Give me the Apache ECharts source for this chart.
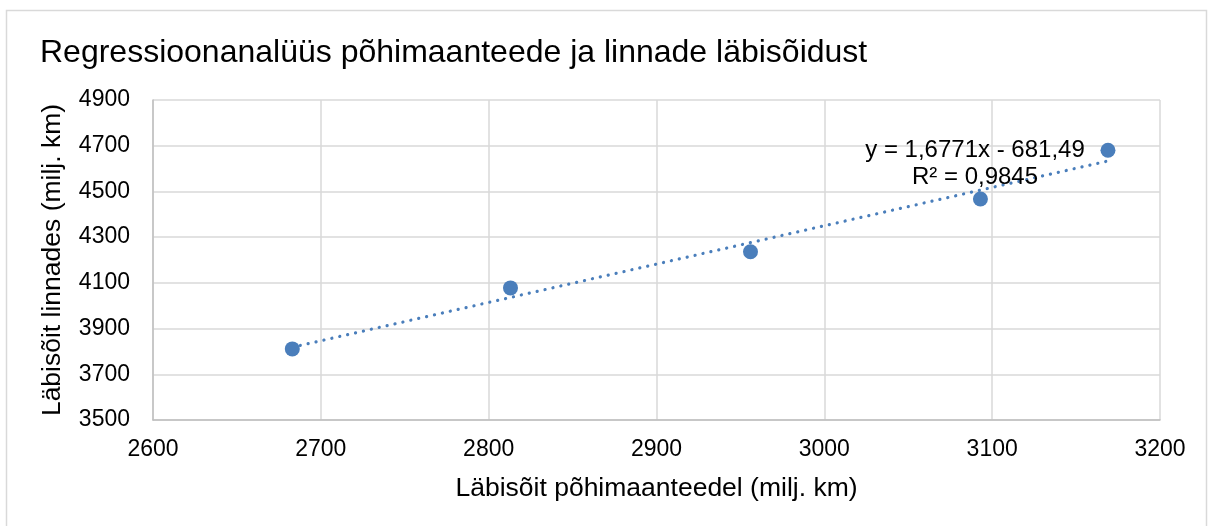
<!DOCTYPE html>
<html>
<head>
<meta charset="utf-8">
<script src="https://cdn.jsdelivr.net/npm/echarts@6/dist/echarts.min.js"></script>
<style>html,body{margin:0;padding:0;background:#fff}#c{width:1213px;height:526px}</style>
</head>
<body>
<div id="c"></div>
<script>
const xValues = [2683, 2813, 2956, 3093, 3169];
const yValues = [3811, 4078, 4236, 4467, 4680];
const slope = 1.6771;
const intercept = -681.49;
const eqText = 'y = 1,6771x - 681,49';
const r2Text = 'R² = 0,9845';
const xTicks = [2600, 2700, 2800, 2900, 3000, 3100, 3200];
const yTicks = [3500, 3700, 3900, 4100, 4300, 4500, 4700, 4900];

const pts = xValues.map((x, i) => [x, yValues[i]]);
const xMin = Math.min(...xValues), xMax = Math.max(...xValues);
const trend = [[xMin, slope * xMin + intercept], [xMax, slope * xMax + intercept]];
const font = '"Liberation Sans", Arial, sans-serif';

const chart = echarts.init(document.getElementById('c'));
chart.setOption({
  animation: false,
  backgroundColor: '#fff',
  title: {
    text: 'Regressioonanalüüs põhimaanteede ja linnade läbisõidust',
    left: 35, top: 32,
    textStyle: { fontFamily: font, fontSize: 32, fontWeight: 'normal', color: '#000' }
  },
  grid: { left: 153, right: 53, top: 100, bottom: 106 },
  xAxis: {
    type: 'value', min: xTicks[0], max: xTicks[xTicks.length - 1], interval: 100,
    name: 'Läbisõit põhimaanteedel (milj. km)', nameLocation: 'middle', nameGap: 55,
    nameTextStyle: { fontFamily: font, fontSize: 26.5, color: '#000' },
    axisLine: { lineStyle: { color: '#bfbfbf', width: 1.5 } },
    axisTick: { show: false },
    axisLabel: { fontFamily: font, fontSize: 23, color: '#000', margin: 18, formatter: v => String(v) },
    splitLine: { lineStyle: { color: '#d9d9d9', width: 1.5 } }
  },
  yAxis: {
    type: 'value', min: yTicks[0], max: yTicks[yTicks.length - 1], interval: 200,
    name: 'Läbisõit linnades (milj. km)', nameLocation: 'middle', nameGap: 87,
    nameTextStyle: { fontFamily: font, fontSize: 26.5, color: '#000' },
    axisLine: { show: true, lineStyle: { color: '#bfbfbf', width: 1.5 } },
    axisTick: { show: false },
    axisLabel: { fontFamily: font, fontSize: 23, color: '#000', margin: 23, formatter: v => String(v) },
    splitLine: { lineStyle: { color: '#d9d9d9', width: 1.5 } }
  },
  series: [
    {
      type: 'line', data: trend, symbol: 'none', z: 2,
      lineStyle: { color: '#4a7ebb', width: 3.2, type: [0.1, 8], cap: 'round' }
    },
    {
      type: 'scatter', data: pts, symbolSize: 15, z: 3,
      itemStyle: { color: '#4a7ebb', opacity: 1 }
    }
  ],
  graphic: [
    { type: 'rect', shape: { x: 6.5, y: 10.5, width: 1200, height: 530 },
      style: { fill: 'none', stroke: '#d9d9d9', lineWidth: 1.5 }, z: -1 },
    { type: 'text', x: 975, y: 150, style: { text: eqText, font: '24px ' + font, fill: '#000', align: 'center', verticalAlign: 'middle' }, z: 10 },
    { type: 'text', x: 975, y: 177, style: { text: r2Text, font: '24px ' + font, fill: '#000', align: 'center', verticalAlign: 'middle' }, z: 10 }
  ]
});
</script>
</body>
</html>
